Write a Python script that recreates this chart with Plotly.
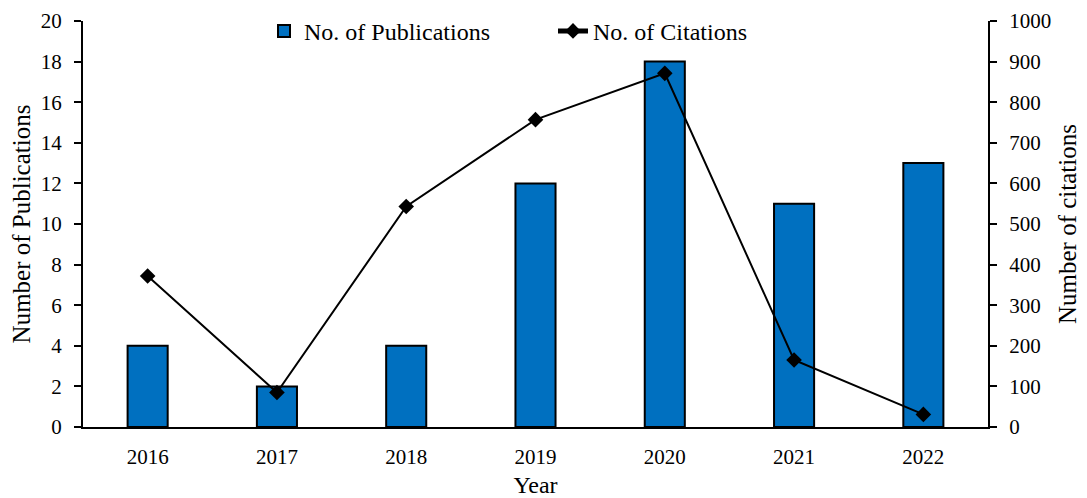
import plotly.graph_objects as go

years = ["2016", "2017", "2018", "2019", "2020", "2021", "2022"]
publications = [4, 2, 4, 12, 18, 11, 13]
citations = [372, 85, 543, 757, 871, 165, 31]

FONT = "Liberation Serif, Times New Roman, serif"

fig = go.Figure()
fig.add_trace(go.Bar(
    x=years, y=publications, name="No. of Publications",
    marker=dict(color="#0070C0", line=dict(color="black", width=2)),
    width=0.31, yaxis="y",
))
fig.add_trace(go.Scatter(
    x=years, y=citations, name="No. of Citations", yaxis="y2",
    mode="lines+markers",
    line=dict(color="black", width=2),
    marker=dict(symbol="diamond", size=12, color="black"),
))

fig.update_layout(
    width=1087, height=498,
    margin=dict(l=83, r=99, t=21, b=71, autoexpand=False),
    plot_bgcolor="white", paper_bgcolor="white",
    font=dict(family=FONT, size=21, color="black"),
    showlegend=True,
    legend=dict(
        orientation="h", x=0.2, y=1.03, xanchor="left", yanchor="top",
        font=dict(family=FONT, size=24, color="black"),
        bgcolor="rgba(0,0,0,0)",
        entrywidth=244, entrywidthmode="pixels",
        itemsizing="constant",
    ),
    xaxis=dict(
        title=dict(text="Year", font=dict(size=24), standoff=10),
        automargin=False,
        showline=True, linecolor="black", linewidth=2,
        ticks="", showgrid=False, tickfont=dict(size=21),
        ticklabelstandoff=10,
        range=[-0.5, 6.5],
    ),
    yaxis=dict(
        title=dict(text="Number of Publications", font=dict(size=25), standoff=3),
        automargin=False,
        range=[0, 20], dtick=2, showline=True, linecolor="black", linewidth=2,
        ticks="outside", ticklen=7, tickwidth=2, tickcolor="black",
        ticklabelstandoff=8,
        showgrid=False, zeroline=False, tickfont=dict(size=21),
    ),
    yaxis2=dict(
        title=dict(text="Number of citations", font=dict(size=25), standoff=8),
        automargin=False,
        range=[0, 1000], dtick=100, overlaying="y", side="right",
        showline=True, linecolor="black", linewidth=2,
        ticks="outside", ticklen=7, tickwidth=2, tickcolor="black",
        ticklabelstandoff=8,
        showgrid=False, zeroline=False, tickfont=dict(size=21),
    ),
)

fig.write_html("out.html")
